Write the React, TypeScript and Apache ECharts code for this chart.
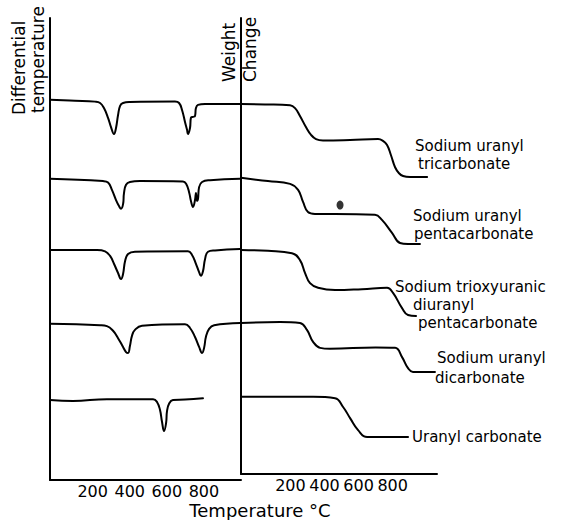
import React, { useEffect, useRef } from "react";
import * as echarts from "echarts";

// Temperature tick labels (°C) shown under both panels
const tempTicks = [200, 400, 600, 800];

// Differential temperature (DTA) curves: [temperature °C, signal (arbitrary units, offset per trace)]
const dtaTricarbonate: [number, number][] = [
  [-30, 82.3], [105, 82.1], [213, 81.9], [240, 81.6], [261, 80.5], [283, 78.4], [299, 76.4],
  [315, 74.9], [326, 76.2], [337, 79.0], [348, 81.0], [364, 81.6], [401, 81.8], [644, 81.9],
  [666, 81.6], [682, 80.1], [698, 77.5], [709, 75.8], [714, 74.9], [725, 76.2], [730, 78.4],
  [741, 78.6], [752, 78.8], [757, 80.5], [768, 81.2], [806, 81.4], [995, 81.4],
];
const dtaPentacarbonate: [number, number][] = [
  [-30, 65.2], [256, 64.7], [283, 64.4], [304, 62.8], [326, 60.6], [342, 59.3], [353, 58.7],
  [364, 59.7], [369, 62.1], [380, 63.9], [401, 64.5], [455, 64.7], [687, 64.6], [704, 64.1],
  [720, 62.3], [730, 60.4], [741, 59.1], [752, 60.6], [757, 62.1], [763, 60.4], [768, 60.8],
  [774, 63.4], [790, 64.5], [833, 64.9], [995, 65.2],
];
const dtaTrioxyuranic: [number, number][] = [
  [-30, 49.8], [224, 49.8], [267, 49.5], [294, 48.5], [315, 46.8], [337, 44.8], [353, 43.5],
  [364, 44.6], [375, 47.4], [391, 48.9], [428, 49.4], [714, 49.5], [736, 48.7], [757, 46.8],
  [774, 45.0], [784, 44.2], [795, 45.2], [806, 47.8], [822, 49.4], [860, 49.7], [995, 50.0],
];
const dtaDicarbonate: [number, number][] = [
  [-30, 33.8], [240, 33.5], [277, 33.3], [310, 32.3], [337, 30.7], [364, 28.8], [380, 27.7],
  [391, 27.5], [401, 29.0], [412, 31.2], [428, 32.5], [466, 33.4], [698, 33.7], [725, 32.9],
  [752, 30.95], [774, 28.8], [790, 27.5], [801, 28.6], [811, 31.0], [828, 32.7], [855, 33.5],
  [995, 34.0],
];
const dtaUranylCarbonate: [number, number][] = [
  [-30, 17.3], [94, 17.1], [277, 17.5], [526, 17.5], [547, 16.9], [563, 15.2], [574, 12.6],
  [585, 10.6], [596, 12.3], [601, 14.9], [612, 16.5], [633, 17.3], [698, 17.4], [795, 17.7],
];

// Weight change (TG) curves: [temperature °C, weight (arbitrary units, offset per trace)]
const tgTricarbonate: [number, number][] = [
  [-90, 81.4], [51, 81.3], [198, 81.1], [227, 80.5], [256, 78.8], [291, 76.4], [321, 74.7],
  [350, 73.8], [391, 73.5], [550, 73.6], [714, 73.8], [743, 73.4], [767, 72.5], [790, 70.3],
  [814, 67.7], [837, 66.4], [861, 65.8], [902, 65.6], [1002, 65.6],
];
const tgPentacarbonate: [number, number][] = [
  [-90, 65.4], [68, 64.7], [198, 64.1], [245, 62.8], [274, 60.2], [303, 58.0], [344, 57.6],
  [462, 57.6], [696, 57.4], [737, 56.3], [796, 53.5], [843, 51.3], [890, 51.1], [960, 51.1],
];
const tgTrioxyuranic: [number, number][] = [
  [-90, 49.8], [68, 49.6], [209, 49.1], [256, 47.6], [286, 44.8], [315, 42.6], [362, 41.6],
  [462, 41.1], [620, 41.3], [767, 41.6], [802, 40.5], [855, 37.2], [890, 35.7], [937, 35.5],
];
const tgDicarbonate: [number, number][] = [
  [-90, 34.0], [139, 34.2], [256, 34.0], [297, 32.5], [333, 29.9], [374, 28.6], [432, 28.4],
  [700, 28.7], [814, 28.6], [855, 26.6], [890, 24.2], [919, 23.4], [1048, 23.4],
];
const tgUranylCarbonate: [number, number][] = [
  [-90, 18.0], [333, 18.0], [462, 17.7], [509, 15.8], [550, 13.4], [597, 10.8], [650, 9.3],
  [890, 9.3],
];
// Ink blot on the original figure
const blot: [number, number][] = [[491, 59.5]];

const dtaSeries = [dtaTricarbonate, dtaPentacarbonate, dtaTrioxyuranic, dtaDicarbonate, dtaUranylCarbonate];
const tgSeries = [tgTricarbonate, tgPentacarbonate, tgTrioxyuranic, tgDicarbonate, tgUranylCarbonate];

const curveLabels: string[][] = [
  ["Sodium uranyl", "tricarbonate"],
  ["Sodium uranyl", "pentacarbonate"],
  ["Sodium trioxyuranic", "diuranyl", "pentacarbonate"],
  ["Sodium uranyl", "dicarbonate"],
  ["Uranyl carbonate"],
];
const yAxisTitle = ["Differential", "temperature"];
const weightTitle = ["Weight", "Change"];
const xAxisTitle = "Temperature °C";

const FONT = "DejaVu Sans";

// label anchor positions (left, middle) for each line of each curve label
const labelPos: [number, number][][] = [
  [[415, 146], [418, 164]],
  [[413, 216], [414, 234]],
  [[395, 287], [413, 305], [418, 323]],
  [[437, 358], [435, 378]],
  [[412, 437]],
];

export default function App() {
  const ref = useRef<HTMLDivElement>(null);
  useEffect(() => {
    if (!ref.current) return;
    const chart = echarts.init(ref.current, undefined, { renderer: "svg" });
    const axisLineStyle = { color: "#000", width: 2 };
    const xAxisCommon = {
      type: "value",
      axisLine: { show: true, onZero: false, lineStyle: axisLineStyle },
      axisTick: { show: false },
      splitLine: { show: false },
      axisLabel: { customValues: tempTicks, color: "#000", fontSize: 16, fontFamily: FONT, margin: 3 },
    };
    const yAxisCommon = {
      type: "value",
      axisLine: { show: true, onZero: false, lineStyle: axisLineStyle },
      axisTick: { show: false },
      splitLine: { show: false },
      axisLabel: { show: false },
    };
    const lineCommon = {
      type: "line",
      showSymbol: false,
      symbol: "none",
      smooth: 0.45,
      silent: true,
      lineStyle: { color: "#000", width: 2, join: "round", cap: "round" },
    };
    const series: any[] = [];
    dtaSeries.forEach((d) => series.push({ ...lineCommon, xAxisIndex: 0, yAxisIndex: 0, data: d }));
    tgSeries.forEach((d) => series.push({ ...lineCommon, xAxisIndex: 1, yAxisIndex: 1, data: d }));
    series.push({
      type: "scatter",
      xAxisIndex: 1,
      yAxisIndex: 1,
      data: blot,
      symbol: "circle",
      symbolSize: [7, 9],
      itemStyle: { color: "#000" },
      silent: true,
    });

    const textStyle = (text: string, size: number, align = "left") => ({
      text,
      fontSize: size,
      fontFamily: FONT,
      fill: "#000",
      textAlign: align,
      textVerticalAlign: "middle",
    });
    const graphic: any[] = [];
    curveLabels.forEach((lines, i) =>
      lines.forEach((t, j) =>
        graphic.push({ type: "text", x: labelPos[i][j][0], y: labelPos[i][j][1], style: textStyle(t, 15) })
      )
    );
    graphic.push({ type: "text", x: 19, y: 115, rotation: Math.PI / 2, style: textStyle(yAxisTitle[0], 17) });
    graphic.push({ type: "text", x: 38, y: 113, rotation: Math.PI / 2, style: textStyle(yAxisTitle[1], 17) });
    graphic.push({ type: "text", x: 229, y: 82, rotation: Math.PI / 2, style: textStyle(weightTitle[0], 17) });
    graphic.push({ type: "text", x: 250, y: 82, rotation: Math.PI / 2, style: textStyle(weightTitle[1], 17) });
    graphic.push({ type: "text", x: 260, y: 510, style: textStyle(xAxisTitle, 18, "center") });

    chart.setOption({
      animation: false,
      backgroundColor: "#fff",
      grid: [
        { left: 50, top: 18, width: 191, height: 462, outerBoundsMode: "none" },
        { left: 241, top: 18, width: 196, height: 456, outerBoundsMode: "none" },
      ],
      xAxis: [
        { ...xAxisCommon, gridIndex: 0, min: -30, max: 1000 },
        { ...xAxisCommon, gridIndex: 1, min: -90, max: 1060 },
      ],
      yAxis: [
        { ...yAxisCommon, gridIndex: 0, min: 0, max: 100 },
        { ...yAxisCommon, gridIndex: 1, min: 1.3, max: 100 },
      ],
      series,
      graphic,
    });
    return () => chart.dispose();
  }, []);
  return (
    <div
      ref={ref}
      style={{ position: "fixed", left: 0, top: 0, width: 561, height: 520, background: "#fff" }}
    />
  );
}
